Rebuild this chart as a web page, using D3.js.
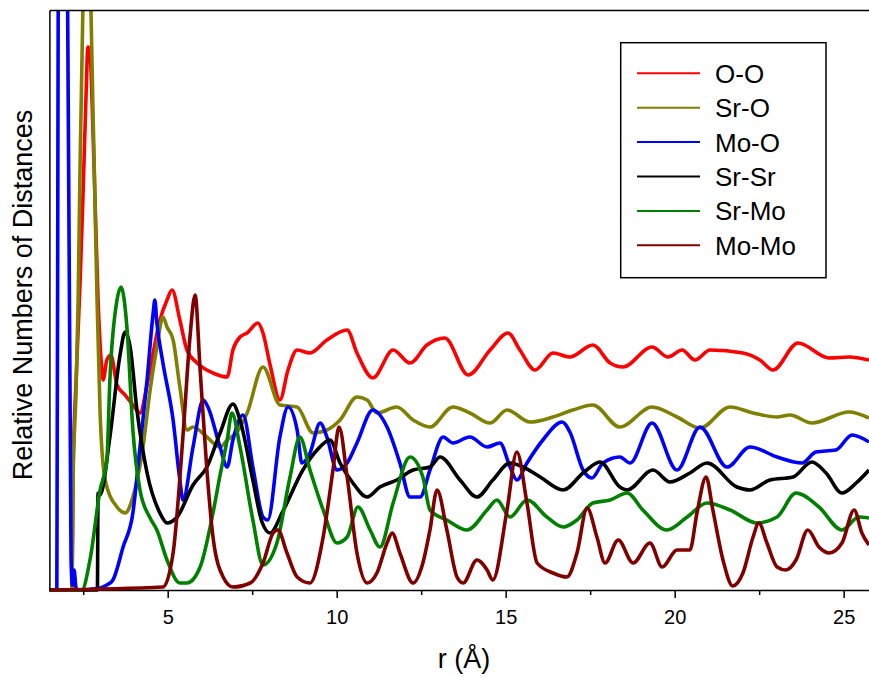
<!DOCTYPE html>
<html>
<head>
<meta charset="utf-8">
<script src="https://cdn.jsdelivr.net/npm/d3@7"></script>
<style>
  body { margin: 0; background: #fff; }
  text { font-family: "Liberation Sans", Arial, sans-serif; fill: #000; }
</style>
</head>
<body>
<div id="chart"></div>
<script>
// Series names (legend order)
const seriesNames = ['O-O', 'Sr-O', 'Mo-O', 'Sr-Sr', 'Sr-Mo', 'Mo-Mo'];

// [r (Å), relative number]
const dataOO = [[1.5,0],[2.17,0],[2.20,1.20],[2.29,2.10],[2.41,3.10],[2.49,3.90],[2.58,4.90],[2.64,5.43],[2.70,5.40],[2.76,4.90],[2.85,3.90],[2.94,2.90],[3.03,2.30],[3.09,2.10],[3.20,2.30],[3.32,2.35],[3.50,2.05],[3.74,1.95],[3.97,1.85],[4.18,1.77],[4.39,2.05],[4.57,2.37],[4.77,2.70],[4.98,2.90],[5.13,3.00],[5.36,2.70],[5.57,2.40],[5.87,2.27],[6.34,2.17],[6.76,2.13],[6.93,2.40],[7.14,2.53],[7.35,2.57],[7.67,2.67],[7.82,2.57],[8.03,2.25],[8.32,1.90],[8.56,2.20],[8.83,2.40],[9.21,2.37],[9.71,2.50],[10.31,2.60],[10.60,2.37],[11.07,2.12],[11.67,2.40],[12.17,2.27],[12.67,2.45],[13.20,2.52],[13.89,2.15],[14.54,2.40],[15.07,2.57],[15.42,2.40],[15.87,2.20],[16.40,2.37],[16.90,2.33],[17.58,2.45],[18.09,2.27],[18.47,2.23],[19.33,2.43],[19.80,2.33],[20.22,2.40],[20.60,2.30],[21.05,2.40],[22.02,2.37],[22.52,2.30],[22.91,2.20],[23.65,2.47],[24.57,2.32],[25.16,2.33],[25.75,2.30]];

const dataSrO = [[1.5,0],[2.14,0],[2.17,0.05],[2.20,1.10],[2.29,2.00],[2.35,2.90],[2.41,4.30],[2.49,5.80],[2.55,7.40],[2.61,8.40],[2.67,7.40],[2.73,5.80],[2.82,4.35],[2.91,2.90],[3.00,1.77],[3.15,1.10],[3.50,0.83],[3.74,0.77],[3.97,0.93],[4.27,1.43],[4.48,2.00],[4.68,2.43],[4.86,2.73],[4.98,2.63],[5.16,2.50],[5.36,2.03],[5.57,1.60],[5.75,1.63],[6.16,1.53],[6.55,1.43],[6.76,1.50],[7.05,1.58],[7.35,1.77],[7.82,2.23],[8.32,1.85],[8.83,1.83],[9.30,1.57],[9.71,1.60],[10.10,1.70],[10.60,1.93],[10.90,1.90],[11.19,1.77],[11.78,1.83],[12.26,1.70],[12.76,1.63],[13.44,1.83],[13.94,1.77],[14.54,1.67],[15.04,1.80],[15.72,1.68],[16.40,1.73],[16.99,1.80],[17.58,1.85],[18.38,1.63],[19.33,1.83],[20.07,1.73],[20.75,1.62],[21.64,1.83],[22.32,1.77],[23.03,1.73],[23.41,1.75],[24.06,1.67],[25.16,1.78],[25.75,1.72]];

const dataMoO = [[1.5,0],[1.72,0],[1.76,5.80],[1.80,8.90],[1.90,10.40],[2.01,8.90],[2.04,5.80],[2.14,0.33],[2.18,0.05],[2.23,0.20],[2.29,0.02],[2.35,0],[3.00,0.02],[3.20,0.05],[3.38,0.10],[3.68,0.43],[3.97,0.77],[4.18,1.43],[4.39,2.10],[4.57,2.77],[4.62,2.90],[4.68,2.67],[4.86,2.27],[5.16,1.70],[5.36,1.10],[5.45,0.90],[5.75,1.43],[6.05,1.90],[6.19,1.83],[6.55,1.43],[6.76,1.23],[6.93,1.50],[7.23,1.75],[7.52,1.23],[7.82,0.73],[7.96,0.70],[8.32,1.53],[8.56,1.83],[8.83,1.60],[8.97,1.27],[9.21,1.37],[9.51,1.67],[9.71,1.53],[10.01,1.20],[10.31,1.27],[10.60,1.47],[11.07,1.80],[11.49,1.63],[11.87,1.27],[12.17,0.93],[12.47,0.93],[12.76,1.20],[13.15,1.53],[13.44,1.47],[13.94,1.53],[14.45,1.43],[14.83,1.47],[15.13,1.23],[15.33,1.10],[15.63,1.27],[16.10,1.50],[16.67,1.68],[16.90,1.58],[17.29,1.20],[17.55,1.12],[17.88,1.27],[18.38,1.33],[18.68,1.27],[19.33,1.67],[20.07,1.20],[20.75,1.63],[21.55,1.23],[22.23,1.43],[23.03,1.33],[23.77,1.27],[24.18,1.38],[24.77,1.40],[25.25,1.55],[25.75,1.48]];

const dataSrSr = [[1.5,0],[2.92,0],[2.94,0.97],[3.00,0.95],[3.29,1.53],[3.59,2.35],[3.74,2.58],[3.89,2.43],[4.09,1.80],[4.39,1.17],[4.77,0.77],[4.98,0.67],[5.28,0.73],[5.75,1.05],[6.16,1.23],[6.55,1.57],[6.93,1.86],[7.14,1.70],[7.52,1.10],[7.79,0.68],[8.03,0.57],[8.41,0.79],[9.00,1.20],[9.42,1.40],[9.80,1.50],[10.10,1.27],[10.48,1.07],[10.90,0.93],[11.28,1.03],[11.78,1.10],[12.26,1.20],[12.76,1.23],[13.06,1.33],[13.65,1.10],[14.15,0.93],[14.62,1.10],[15.13,1.27],[15.51,1.23],[16.02,1.13],[16.70,1.00],[17.29,1.17],[17.79,1.28],[18.38,1.03],[18.59,1.00],[19.36,1.20],[19.86,1.08],[20.45,1.17],[20.96,1.27],[21.84,1.03],[22.23,1.00],[22.82,1.10],[23.50,1.13],[24.06,1.28],[24.48,1.17],[24.95,0.97],[25.37,1.07],[25.75,1.20]];

const dataSrMo = [[1.5,0],[2.46,0],[2.70,0.30],[3.00,1.00],[3.20,1.30],[3.29,2.10],[3.50,2.90],[3.62,3.03],[3.80,2.60],[3.97,1.60],[4.18,1.00],[4.48,0.72],[4.68,0.60],[4.98,0.30],[5.36,0.07],[5.57,0.07],[5.96,0.23],[6.34,0.77],[6.55,1.15],[6.76,1.50],[6.90,1.77],[7.14,1.43],[7.52,0.70],[7.82,0.25],[8.23,0.47],[8.62,1.13],[8.91,1.53],[9.21,1.20],[9.60,0.80],[10.01,0.47],[10.31,0.53],[10.63,0.83],[10.99,0.60],[11.28,0.43],[11.67,0.87],[12.17,1.33],[12.55,1.13],[12.76,0.80],[13.26,0.70],[13.86,0.60],[14.45,0.80],[14.74,0.90],[15.13,0.73],[15.63,0.90],[16.22,0.73],[16.70,0.63],[17.11,0.70],[17.58,0.87],[18.09,0.90],[18.59,0.97],[19.06,0.80],[19.77,0.60],[20.37,0.73],[20.96,0.87],[21.64,0.80],[22.44,0.67],[23.03,0.73],[23.59,0.97],[24.27,0.83],[24.95,0.60],[25.45,0.73],[25.75,0.72]];

const dataMoMo = [[1.5,0],[4.86,0.03],[5.16,0.37],[5.45,1.53],[5.66,2.53],[5.81,2.95],[5.96,2.20],[6.16,1.20],[6.34,0.53],[6.64,0.13],[6.93,0.03],[7.44,0.07],[7.82,0.27],[8.12,0.57],[8.26,0.60],[8.53,0.37],[8.83,0.13],[9.21,0.07],[9.60,0.53],[9.89,1.20],[10.07,1.63],[10.31,1.13],[10.60,0.37],[10.90,0.07],[11.19,0.17],[11.49,0.47],[11.64,0.57],[11.87,0.37],[12.26,0.07],[12.55,0.27],[12.76,0.60],[12.97,1.00],[13.26,0.60],[13.56,0.13],[13.74,0.07],[14.15,0.30],[14.45,0.20],[14.62,0.10],[15.04,0.80],[15.33,1.38],[15.63,0.87],[15.93,0.27],[16.40,0.17],[16.81,0.13],[17.11,0.37],[17.41,0.82],[17.70,0.53],[17.94,0.27],[18.33,0.50],[18.77,0.27],[19.27,0.47],[19.63,0.23],[20.07,0.40],[20.45,0.40],[20.66,0.77],[20.93,1.13],[21.13,0.80],[21.43,0.30],[21.72,0.04],[22.02,0.17],[22.32,0.53],[22.49,0.67],[22.73,0.47],[23.03,0.23],[23.29,0.20],[23.59,0.30],[23.94,0.60],[24.27,0.43],[24.57,0.37],[24.95,0.47],[25.31,0.80],[25.54,0.57],[25.75,0.45]];

// Axis ticks
const xMajorTicks = [5, 10, 15, 20, 25];
const xMinorTicks = [2.5, 7.5, 12.5, 17.5, 22.5];

const seriesData = [dataOO, dataSrO, dataMoO, dataSrSr, dataSrMo, dataMoMo];
const seriesColors = ['#ff0000', '#808000', '#0000ff', '#000000', '#008000', '#800000'];

const width = 869;
const height = 677;

const svg = d3.select('#chart')
    .append('svg')
    .attr('width', width)
    .attr('height', height);

const x = d3.scaleLinear().domain([1.5, 25.75]).range([49.4, 869]);
const y = d3.scaleLinear().domain([0, 5.8]).range([590, 10]);

// clip for the curves
svg.append('defs').append('clipPath')
    .attr('id', 'plot-clip')
    .append('rect')
    .attr('x', x(1.5))
    .attr('y', y(5.8))
    .attr('width', x(25.75) - x(1.5))
    .attr('height', y(0) - y(5.8) + 3);

// Minor ticks
svg.append('g')
    .attr('transform', `translate(0, ${y(0)})`)
    .call(d3.axisBottom(x).tickValues(xMinorTicks).tickSize(5).tickSizeOuter(0).tickFormat(''))
    .call(g => g.select('.domain').remove())
    .call(g => g.selectAll('line').attr('stroke-width', 1.5));

// Major ticks + labels
svg.append('g')
    .attr('transform', `translate(0, ${y(0)})`)
    .call(d3.axisBottom(x).tickValues(xMajorTicks).tickSize(8).tickSizeOuter(0).tickPadding(12))
    .call(g => g.select('.domain').attr('stroke-width', 1.5))
    .call(g => g.selectAll('line').attr('stroke-width', 1.5))
    .call(g => g.selectAll('text')
        .attr('font-size', 20)
        .attr('font-family', '"Liberation Sans", Arial, sans-serif'));

// Curves
const line = d3.line()
    .x(d => x(d[0]))
    .y(d => y(d[1]))
    .curve(d3.curveMonotoneX);

svg.append('g')
    .attr('clip-path', 'url(#plot-clip)')
    .selectAll('path')
    .data(seriesData)
    .enter()
    .append('path')
    .attr('d', line)
    .attr('fill', 'none')
    .attr('stroke', (d, i) => seriesColors[i])
    .attr('stroke-width', 3.6)
    .attr('stroke-linejoin', 'round');

// Left and top frame lines
svg.append('g')
    .attr('transform', `translate(${x(1.5)}, 0)`)
    .call(d3.axisLeft(y).tickValues([]).tickSizeOuter(0))
    .call(g => g.select('.domain').attr('stroke-width', 1.5));

svg.append('g')
    .attr('transform', `translate(0, ${y(5.8)})`)
    .call(d3.axisTop(x).tickValues([]).tickSizeOuter(0))
    .call(g => g.select('.domain').attr('stroke-width', 1.5));

// Axis titles
svg.append('text')
    .attr('x', 464)
    .attr('y', 668)
    .attr('text-anchor', 'middle')
    .attr('font-size', 27)
    .text('r (Å)');

svg.append('text')
    .attr('transform', 'translate(32, 295) rotate(-90)')
    .attr('text-anchor', 'middle')
    .attr('font-size', 27)
    .text('Relative Numbers of Distances');

// Legend
const legend = svg.append('g');
legend.append('rect')
    .attr('x', 620.7)
    .attr('y', 42.7)
    .attr('width', 205.3)
    .attr('height', 235)
    .attr('fill', '#fff')
    .attr('stroke', '#000')
    .attr('stroke-width', 1.5);

const items = legend.selectAll('g.item')
    .data(seriesNames)
    .enter()
    .append('g')
    .attr('class', 'item')
    .attr('transform', (d, i) => `translate(0, ${73.3 + i * 34.4})`);

items.append('line')
    .attr('x1', 637)
    .attr('x2', 700)
    .attr('stroke', (d, i) => seriesColors[i])
    .attr('stroke-width', 2);

items.append('text')
    .attr('x', 715)
    .attr('y', 9.5)
    .attr('font-size', 26)
    .text(d => d);
</script>
</body>
</html>
